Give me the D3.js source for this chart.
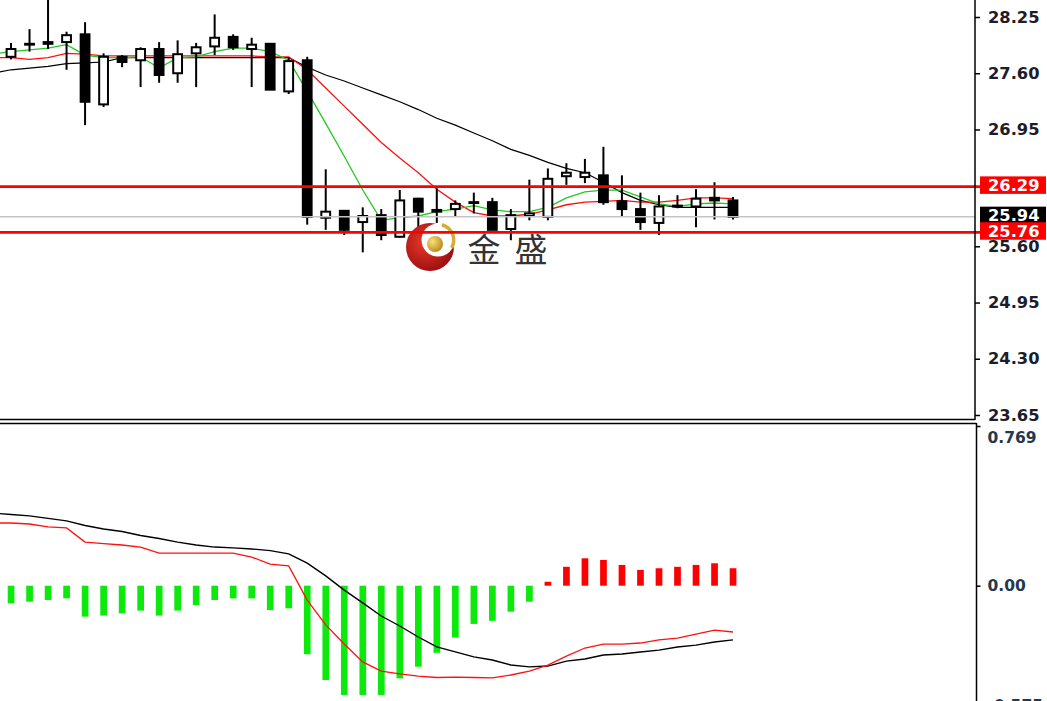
<!DOCTYPE html>
<html><head><meta charset="utf-8">
<script src="https://cdn.jsdelivr.net/npm/d3@7"></script>
<style>html,body{margin:0;padding:0;background:#fff;overflow:hidden}</style>
</head><body>
<svg id="c" width="1047" height="701"></svg>
<script>
// ---------- data ----------
// first slot is the bar just left of the visible window (only its indicator values show)
const categories = d3.range(41);
const open  = [null,27.79,27.93,27.94,27.96,28.05,27.24,27.79,27.75,27.88,27.60,27.83,27.91,28.02,27.88,27.94,27.39,27.75,25.93,26.01,25.88,25.96,25.71,26.15,26.00,26.03,26.10,26.11,25.80,25.95,25.94,26.41,26.40,26.42,26.12,26.03,25.87,26.06,26.06,26.16,26.13];
const high  = [null,27.95,28.11,28.45,28.08,28.19,27.83,27.81,27.90,27.96,27.98,27.95,28.28,28.05,28.01,27.95,27.78,27.79,26.49,26.01,26.05,26.03,26.25,26.16,26.27,26.13,26.22,26.16,26.03,26.37,26.50,26.56,26.61,26.75,26.42,26.22,26.19,26.19,26.26,26.34,26.17];
const low   = [null,27.76,27.85,27.88,27.64,27.00,27.21,27.67,27.44,27.49,27.49,27.44,27.81,27.87,27.44,27.41,27.36,25.85,25.79,25.73,25.53,25.67,25.70,25.80,25.87,25.94,25.98,25.79,25.67,25.90,25.90,26.31,26.33,26.08,25.95,25.79,25.73,26.04,25.82,25.91,25.91];
const close = [null,27.88,27.94,27.96,28.04,27.27,27.79,27.73,27.88,27.58,27.82,27.90,28.01,27.90,27.93,27.41,27.74,25.94,26.00,25.79,25.95,25.73,26.13,26.00,26.02,26.09,26.11,25.79,25.96,25.98,26.38,26.45,26.45,26.11,26.03,25.88,26.06,26.07,26.15,26.13,25.94];
const maFast  = [27.82,27.85,27.87,27.89,27.93,27.81,27.78,27.78,27.79,27.66,27.78,27.79,27.85,27.89,27.89,27.85,27.75,27.39,27.02,26.64,26.25,25.90,25.93,25.95,26.00,26.03,26.07,26.02,26.00,26.00,26.05,26.16,26.23,26.25,26.25,26.17,26.09,26.06,26.09,26.10,26.09];
const maMid   = [27.78,27.78,27.76,27.78,27.83,27.82,27.80,27.80,27.80,27.80,27.80,27.80,27.80,27.80,27.80,27.79,27.79,27.64,27.43,27.22,27.01,26.80,26.62,26.45,26.26,26.11,25.99,25.95,25.95,25.97,26.02,26.08,26.11,26.12,26.13,26.11,26.11,26.13,26.16,26.16,26.15];
const maSlow  = [27.60,27.64,27.66,27.68,27.71,27.72,27.73,27.78,27.78,27.78,27.78,27.78,27.78,27.78,27.78,27.78,27.78,27.67,27.58,27.51,27.43,27.35,27.27,27.18,27.08,27.00,26.91,26.82,26.72,26.65,26.57,26.50,26.45,26.34,26.22,26.13,26.08,26.05,26.05,26.05,26.05];
const macdHist   = [null,-0.085,-0.077,-0.069,-0.061,-0.149,-0.144,-0.133,-0.120,-0.144,-0.120,-0.093,-0.069,-0.061,-0.061,-0.117,-0.109,-0.330,-0.454,-0.526,-0.526,-0.526,-0.446,-0.390,-0.323,-0.250,-0.184,-0.169,-0.125,-0.077,0.019,0.091,0.132,0.124,0.100,0.076,0.084,0.091,0.100,0.108,0.084];
const macdMain   = [0.350,0.343,0.336,0.324,0.312,0.290,0.273,0.261,0.242,0.227,0.210,0.196,0.186,0.182,0.177,0.169,0.153,0.109,0.047,-0.021,-0.083,-0.146,-0.194,-0.247,-0.295,-0.319,-0.343,-0.358,-0.382,-0.391,-0.387,-0.363,-0.353,-0.334,-0.329,-0.319,-0.310,-0.295,-0.286,-0.271,-0.261];
const macdSignal = [0.302,0.302,0.297,0.283,0.278,0.210,0.203,0.196,0.186,0.157,0.157,0.157,0.157,0.157,0.138,0.104,0.095,-0.069,-0.189,-0.281,-0.367,-0.411,-0.425,-0.435,-0.442,-0.440,-0.442,-0.444,-0.430,-0.411,-0.382,-0.339,-0.300,-0.281,-0.281,-0.276,-0.261,-0.252,-0.233,-0.214,-0.223];
const priceTicks = [28.25,27.60,26.95,25.60,24.95,24.30,23.65];
const macdTickValues = [0.769,0,-0.575];
const macdTickLabels = ["0.769","0.00","-0.575"];
const levelLines = [26.29,25.76];
const lastPrice = 25.94;
const logoText = ["金","盛"];

// ---------- scales ----------
const svg = d3.select("#c");
const x = d3.scalePoint().domain(categories).range([-7.5,733]);
const y = d3.scaleLinear().domain([23.65,28.25]).range([415,17]);
const ym = d3.scaleLinear().domain([0,0.769]).range([585.7,426]);
const AX = 975;

const defs = svg.append("defs");
defs.append("clipPath").attr("id","cm").append("rect").attr("x",0).attr("y",0).attr("width",AX).attr("height",419);
defs.append("clipPath").attr("id","cb").append("rect").attr("x",0).attr("y",424).attr("width",AX+1).attr("height",277);
const rg = defs.append("radialGradient").attr("id","rg").attr("cx","40%").attr("cy","40%").attr("r","65%");
rg.append("stop").attr("offset","0%").attr("stop-color","#e83a2a");
rg.append("stop").attr("offset","100%").attr("stop-color","#9c0d10");
const gg = defs.append("radialGradient").attr("id","gg").attr("cx","35%").attr("cy","35%").attr("r","70%");
gg.append("stop").attr("offset","0%").attr("stop-color","#f7e27a");
gg.append("stop").attr("offset","100%").attr("stop-color","#b8891e");

// ---------- main panel ----------
const main = svg.append("g").attr("clip-path","url(#cm)");
const idx = categories;
const lineP = arr => d3.line().x(i=>x(i)).y(i=>y(arr[i]))(idx);
main.append("path").attr("d",lineP(maSlow)).attr("fill","none").attr("stroke","#000").attr("stroke-width",1.2);
main.append("path").attr("d",lineP(maMid)).attr("fill","none").attr("stroke","#ff1010").attr("stroke-width",1.3);
main.append("path").attr("d",lineP(maFast)).attr("fill","none").attr("stroke","#22c922").attr("stroke-width",1.3);

const cg = main.append("g");
idx.filter(i=>open[i]!==null).forEach(i=>{
  const cx = x(i);
  cg.append("line").attr("x1",cx).attr("x2",cx).attr("y1",y(high[i])).attr("y2",y(low[i]))
    .attr("stroke","#000").attr("stroke-width",2);
  const top = y(Math.max(open[i],close[i])), bot = y(Math.min(open[i],close[i]));
  cg.append("rect").attr("x",cx-4.4).attr("width",8.8).attr("y",top).attr("height",Math.max(0.01,bot-top))
    .attr("fill", close[i]>=open[i] ? "#fff" : "#000").attr("stroke","#000").attr("stroke-width",2);
});

// current price line
main.append("line").attr("x1",0).attr("x2",AX).attr("y1",y(lastPrice)).attr("y2",y(lastPrice))
  .attr("stroke","#c4c4c4").attr("stroke-width",1.5);

// watermark logo
const lg = svg.append("g");
lg.append("circle").attr("cx",430).attr("cy",247).attr("r",24).attr("fill","url(#rg)");
lg.append("circle").attr("cx",438).attr("cy",240).attr("r",16.5).attr("fill","#fff");
lg.append("path").attr("d",d3.arc()({innerRadius:14,outerRadius:17.5,startAngle:0.25,endAngle:2.1}))
  .attr("transform","translate(438,240)").attr("fill","#d6ab3a");
lg.append("circle").attr("cx",435).attr("cy",244).attr("r",8).attr("fill","url(#gg)");
lg.selectAll("text.lt").data(logoText).enter().append("text").attr("class","lt")
  .attr("x",(d,k)=>484+k*47).attr("y",262).attr("text-anchor","middle")
  .attr("font-family","'Noto Sans CJK SC'").attr("font-size",33).attr("fill","#333").text(d=>d);

// level lines (extend to label boxes)
levelLines.forEach(v=>{
  svg.append("line").attr("x1",0).attr("x2",981).attr("y1",y(v)).attr("y2",y(v))
    .attr("stroke","#ff0000").attr("stroke-width",2.7);
});

// frames
svg.append("line").attr("x1",0).attr("x2",AX).attr("y1",419.5).attr("y2",419.5).attr("stroke","#000").attr("stroke-width",1.5);
svg.append("line").attr("x1",AX).attr("x2",AX).attr("y1",0).attr("y2",420).attr("stroke","#000").attr("stroke-width",1.5);
svg.append("line").attr("x1",0).attr("x2",AX+1.5).attr("y1",423.5).attr("y2",423.5).attr("stroke","#000").attr("stroke-width",1.5);
svg.append("line").attr("x1",AX+1.5).attr("x2",AX+1.5).attr("y1",423).attr("y2",701).attr("stroke","#000").attr("stroke-width",1.5);

// price axis
const pa = svg.append("g").attr("transform",`translate(${AX},0)`)
  .call(d3.axisRight(y).tickValues(priceTicks).tickSize(5).tickPadding(8).tickFormat(d3.format(".2f")));
pa.select(".domain").remove();
pa.selectAll("line").attr("stroke","#000").attr("stroke-width",1.5);
pa.selectAll("text").attr("font-family","'DejaVu Sans'").attr("font-weight","bold").attr("font-size",16.3).attr("fill","#1b1d2b");

// price label boxes
const boxes = [{v:lastPrice,c:"#000"},{v:levelLines[0],c:"#ff0000"},{v:levelLines[1],c:"#ff0000"}];
boxes.forEach(b=>{
  const cy = y(b.v)-1.5;
  svg.append("rect").attr("x",980).attr("y",cy-8.7).attr("width",66).attr("height",17.5).attr("fill",b.c);
  svg.append("text").attr("x",988).attr("y",cy).attr("dy","0.36em")
    .attr("font-family","'DejaVu Sans'").attr("font-weight","bold").attr("font-size",16.3).attr("fill","#fff")
    .text(d3.format(".2f")(b.v));
});

// ---------- MACD panel ----------
const mp = svg.append("g").attr("clip-path","url(#cb)");
mp.selectAll("rect.h").data(idx.filter(i=>macdHist[i]!==null)).enter().append("rect").attr("class","h")
  .attr("x",i=>x(i)-3.3).attr("width",6.7)
  .attr("y",i=>ym(Math.max(0,macdHist[i])))
  .attr("height",i=>Math.abs(ym(macdHist[i])-ym(0)))
  .attr("fill",i=>macdHist[i]>=0 ? "#ff0000" : "#0de80d");
const lineM = arr => d3.line().x(i=>x(i)).y(i=>ym(arr[i]))(idx);
mp.append("path").attr("d",lineM(macdMain)).attr("fill","none").attr("stroke","#000").attr("stroke-width",1.4);
mp.append("path").attr("d",lineM(macdSignal)).attr("fill","none").attr("stroke","#ff1010").attr("stroke-width",1.3);

const ma = svg.append("g").attr("transform",`translate(${AX+1.5},0)`)
  .call(d3.axisRight(ym).tickValues(macdTickValues).tickSize(4).tickPadding(7).tickFormat((d,k)=>macdTickLabels[k]));
ma.select(".domain").remove();
ma.selectAll("line").attr("stroke","#000").attr("stroke-width",1.5);
ma.selectAll("text").attr("font-family","'DejaVu Sans'").attr("font-weight","bold").attr("font-size",15.5).attr("fill","#24384f")
  .attr("dy",(d,k)=> k===0 ? "1.05em" : "0.32em");
</script></body></html>
